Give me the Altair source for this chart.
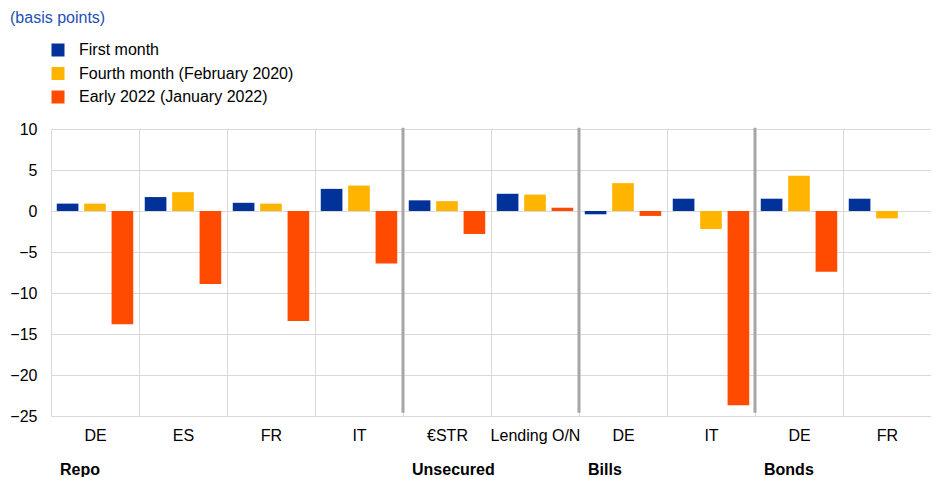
import altair as alt
import pandas as pd

sections = ["Repo", "Repo", "Repo", "Repo", "Unsecured", "Unsecured", "Bills", "Bills", "Bonds", "Bonds"]
labels = ["DE", "ES", "FR", "IT", "€STR", "Lending O/N", "DE", "IT", "DE", "FR"]
first_month = [0.9, 1.7, 1.0, 2.7, 1.3, 2.1, -0.4, 1.5, 1.5, 1.5]
fourth_month = [0.9, 2.3, 0.9, 3.1, 1.2, 2.0, 3.4, -2.2, 4.3, -0.9]
early_2022 = [-13.8, -8.9, -13.4, -6.4, -2.8, 0.4, -0.6, -23.7, -7.4, None]
series = ["First month", "Fourth month (February 2020)", "Early 2022 (January 2022)"]
colors = ["#003299", "#FFB400", "#FF4B00"]
y_ticks = [10, 5, 0, -5, -10, -15, -20, -25]
section_names = ["Repo", "Unsecured", "Bills", "Bonds"]

keys = [f"{i}|{lab}" for i, lab in enumerate(labels)]

rows = []
for i, k in enumerate(keys):
    for s, vals in zip(series, [first_month, fourth_month, early_2022]):
        rows.append({"key": k, "series": s, "value": vals[i]})
bars_df = pd.DataFrame(rows)

# section separators / labels anchored at the first category of each section
sec_first = [keys[sections.index(n)] for n in section_names]
sep_df = pd.DataFrame({"key": sec_first[1:], "top": [10.15] * 3, "bottom": [-24.6] * 3})
sec_df = pd.DataFrame({"key": sec_first, "name": section_names})

FONT = "Liberation Sans"
FS = 16


def xenc(band=None):
    kw = {}
    if band is not None:
        kw["bandPosition"] = band
    return alt.X(
        "key:N",
        sort=keys,
        title=None,
        scale=alt.Scale(paddingInner=0, paddingOuter=0),
        axis=alt.Axis(
            labelExpr="split(datum.label, '|')[1]",
            tickBand="extent",
            grid=True,
            gridColor="#d9d9d9",
            gridWidth=1,
            ticks=False,
            domain=False,
            labelAngle=0,
            labelFontSize=FS,
            labelColor="#000000",
            labelPadding=11,
            labelFont=FONT,
        ),
        **kw,
    )


yscale = alt.Scale(domain=[-25, 10], nice=False)
yaxis = alt.Axis(
    values=y_ticks,
    grid=True,
    gridColor="#d9d9d9",
    gridWidth=1,
    ticks=False,
    domain=False,
    labelFontSize=FS,
    labelColor="#000000",
    labelPadding=14,
    labelFont=FONT,
)

bars = alt.Chart(bars_df).mark_bar().encode(
    x=xenc(),
    xOffset=alt.XOffset("series:N", sort=series, scale=alt.Scale(paddingInner=0.21, paddingOuter=0.21)),
    y=alt.Y("value:Q", scale=yscale, axis=yaxis, title=None),
    color=alt.Color(
        "series:N",
        sort=series,
        scale=alt.Scale(domain=series, range=colors),
        legend=alt.Legend(
            orient="none",
            legendX=-1,
            legendY=-87,
            title=None,
            symbolType="square",
            symbolSize=169,
            symbolStrokeWidth=0,
            labelFontSize=FS,
            labelFont=FONT,
            labelColor="#000000",
            labelLimit=0,
            rowPadding=7.5,
            labelOffset=13,
        ),
    ),
)

seps = alt.Chart(sep_df).mark_rule(color="#a6a6a6", strokeWidth=3).encode(
    x=xenc(0),
    y=alt.Y("top:Q", scale=yscale),
    y2="bottom:Q",
)

sec_text = alt.Chart(sec_df).mark_text(
    align="left", baseline="middle", fontSize=FS, fontWeight="bold", font=FONT, color="#000000", dx=9
).encode(
    x=xenc(0),
    y=alt.value(341),
    text="name:N",
)

chart = (
    alt.layer(bars, seps, sec_text)
    .properties(
        width=880,
        height=287,
        autosize=alt.AutoSizeParams(type="none"),
        padding={"left": 43, "top": 121, "right": 0, "bottom": 61},
        title=alt.Title(
            "(basis points)",
            anchor="start",
            frame="group",
            fontSize=FS,
            fontWeight="normal",
            font=FONT,
            color="#2350b4",
            dx=-41,
            dy=-16,
            offset=0,
        ),
    )
    .configure_view(stroke=None)
)

chart.save("out.html", embed_options={"renderer": "svg", "actions": False})
